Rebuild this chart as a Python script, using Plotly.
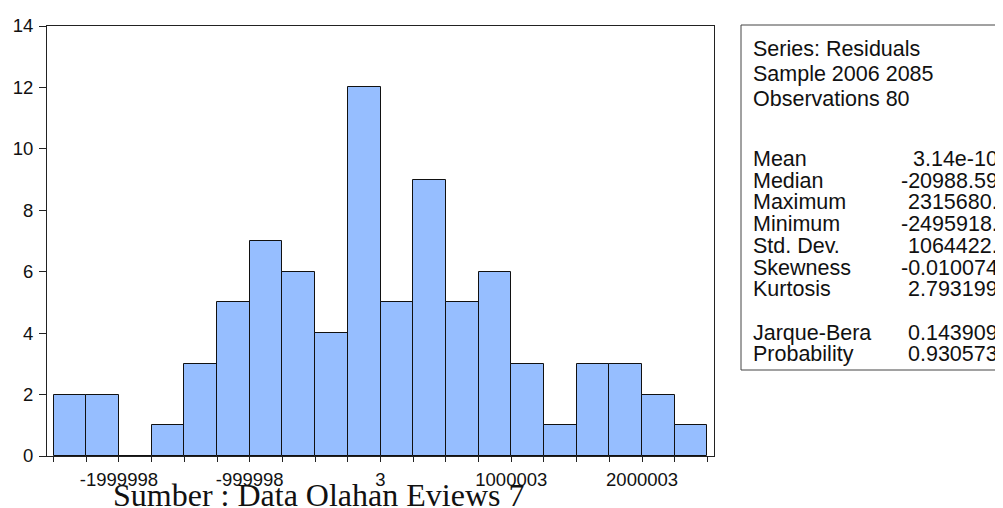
import plotly.graph_objects as go

# ---- data ----
counts = [2, 2, 0, 1, 3, 5, 7, 6, 4, 12, 5, 9, 5, 6, 3, 1, 3, 3, 2, 1]
bin_start = -2499998
bin_width = 250000
tick_labels = ["-1999998", "-999998", "3", "1000003", "2000003"]
first_labelled_edge = 2
label_step = 4
y_ticks = [0, 2, 4, 6, 8, 10, 12, 14]

header_lines = ["Series: Residuals", "Sample 2006 2085", "Observations 80"]
stat_names = ["Mean", "Median", "Maximum", "Minimum", "Std. Dev.", "Skewness",
              "Kurtosis", "", "Jarque-Bera", "Probability"]
stat_values = ["3.14e-10", "-20988.59", "2315680.", "-2495918.", "1064422.",
               "-0.010074", "2.793199", "", "0.143909", "0.930573"]
source_note = "Sumber : Data Olahan Eviews 7"

# ---- geometry (page has an 8px body margin) ----
OFF = 8
W, H = 1003 - OFF, 508 - OFF
PLOT_L, PLOT_R, PLOT_T, PLOT_B = 47, 714, 26, 456   # in window pixels
L, T = PLOT_L - OFF, PLOT_T - OFF
R, B = W - (PLOT_R - OFF), H - (PLOT_B - OFF)
PW, PH = PLOT_R - PLOT_L, PLOT_B - PLOT_T


def px(x):
    return (x - PLOT_L) / PW


def py(y):
    return (PLOT_B - y) / PH


edges = [bin_start + bin_width * k for k in range(len(counts) + 1)]
centers = [bin_start + bin_width * (k + 0.5) for k in range(len(counts))]
ticktext = [""] * len(edges)
for i, lab in enumerate(tick_labels):
    ticktext[first_labelled_edge + i * label_step] = lab

fig = go.Figure()
fig.add_trace(go.Bar(
    x=centers, y=counts, width=bin_width,
    marker=dict(color="#96BEFF", line=dict(color="#111111", width=1)),
    hoverinfo="skip",
))

pad = 0.2 * bin_width
fig.update_layout(
    width=W, height=H,
    margin=dict(l=L, r=R, t=T, b=B, pad=0, autoexpand=False),
    paper_bgcolor="white", plot_bgcolor="white",
    showlegend=False, bargap=0,
    font=dict(family="Liberation Sans, Arial, sans-serif", color="#111111"),
    xaxis=dict(
        range=[edges[0] - pad, edges[-1] + pad],
        tickmode="array", tickvals=edges, ticktext=ticktext,
        ticks="outside", ticklen=5, tickwidth=1, tickcolor="#222222",
        showline=True, linecolor="#222222", linewidth=1, mirror=True,
        showgrid=False, zeroline=False, automargin=False,
        tickfont=dict(size=18.5, family="Liberation Sans, Arial, sans-serif"),
        tickangle=0, ticklabelstandoff=2,
    ),
    yaxis=dict(
        range=[0, 14], tickmode="array", tickvals=y_ticks,
        ticks="outside", ticklen=7, tickwidth=1, tickcolor="#222222",
        showline=True, linecolor="#222222", linewidth=1, mirror=True,
        showgrid=False, zeroline=False, automargin=False,
        tickfont=dict(size=18.5, family="Liberation Sans, Arial, sans-serif"),
        ticklabelstandoff=2,
    ),
)

# statistics box
box_top, box_bottom = 25, 370
fig.add_shape(type="rect", xref="paper", yref="paper",
              x0=px(741), x1=px(1012), y0=py(box_bottom), y1=py(box_top),
              line=dict(color="#444444", width=1), fillcolor="rgba(0,0,0,0)")

header_y0, header_h = 49, 25
stats_y0, stats_h = 159, 21.7
label_x, value_x = 751, 1000
stat_font = dict(size=21.5, family="Liberation Sans, Arial, sans-serif", color="#111111")
for i, txt in enumerate(header_lines):
    fig.add_annotation(x=px(label_x), y=py(header_y0 + i * header_h), xref="paper", yref="paper",
                       text=txt, showarrow=False, xanchor="left", yanchor="middle",
                       font=stat_font)
for i, (n, v) in enumerate(zip(stat_names, stat_values)):
    if not n:
        continue
    yy = py(stats_y0 + i * stats_h)
    fig.add_annotation(x=px(label_x), y=yy, xref="paper", yref="paper",
                       text=n, showarrow=False, xanchor="left", yanchor="middle",
                       font=stat_font)
    fig.add_annotation(x=px(value_x), y=yy, xref="paper", yref="paper",
                       text=v, showarrow=False, xanchor="right", yanchor="middle",
                       font=stat_font)

# source note
fig.add_annotation(x=px(111), y=py(495), xref="paper", yref="paper",
                   text=source_note, showarrow=False, xanchor="left", yanchor="middle",
                   font=dict(size=32, family="Liberation Serif, Times New Roman, serif",
                             color="#111111"))

fig.write_html(
    "out.html",
    post_script="document.documentElement.style.overflow='hidden';"
                "document.body.style.overflow='hidden';",
)
